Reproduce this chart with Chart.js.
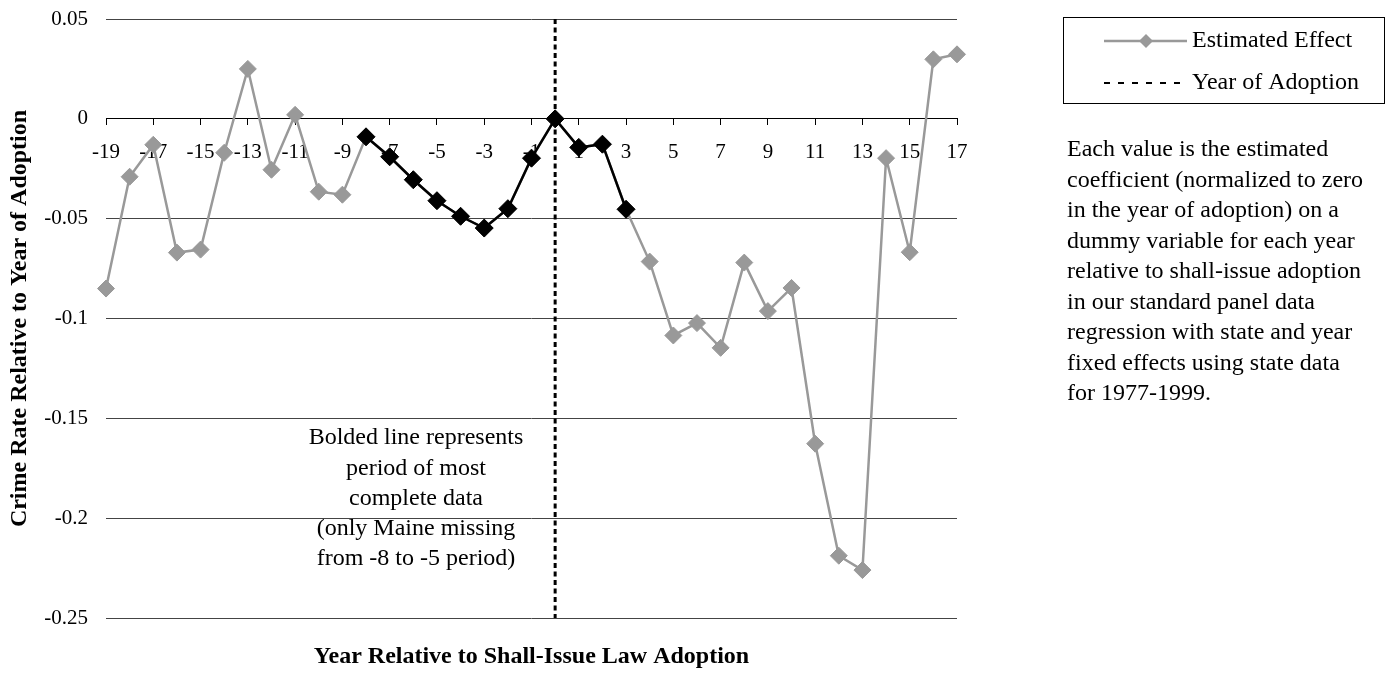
<!DOCTYPE html>
<html>
<head>
<meta charset="utf-8">
<script src="https://cdn.jsdelivr.net/npm/chart.js@4.4.1/dist/chart.umd.min.js"></script>
<style>
  html, body { margin: 0; padding: 0; background: #fff; }
  #wrap { width: 1386px; height: 673px; }
</style>
</head>
<body>
<div id="wrap"><canvas id="chart" width="1386" height="673"></canvas></div>
<script>
// years relative to adoption
const years = ["-19", "-18", "-17", "-16", "-15", "-14", "-13", "-12", "-11", "-10",
  "-9", "-8", "-7", "-6", "-5", "-4", "-3", "-2", "-1", "0",
  "1", "2", "3", "4", "5", "6", "7", "8", "9", "10",
  "11", "12", "13", "14", "15", "16", "17"];

// estimated coefficient for each year
const estimatedEffect = [-0.085, -0.029, -0.013, -0.067, -0.0655, -0.017, 0.025, -0.0255, 0.002, -0.0365,
  -0.038, -0.009, -0.019, -0.0305, -0.041, -0.0488, -0.0547, -0.045, -0.0197, 0,
  -0.0143, -0.0127, -0.0453, -0.0715, -0.1085, -0.1023, -0.1147, -0.072, -0.0963, -0.0847,
  -0.1627, -0.2188, -0.226, -0.0197, -0.0668, 0.0298, 0.0323];

// bolded period of most complete data
const boldFrom = "-8";
const boldTo = "3";
const adoptionYear = "0";

const xTickLabels = ["-19", "-17", "-15", "-13", "-11", "-9", "-7", "-5", "-3", "-1",
  "1", "3", "5", "7", "9", "11", "13", "15", "17"];
const yTicks = [0.05, 0, -0.05, -0.1, -0.15, -0.2, -0.25];

const xTitle = "Year Relative to Shall-Issue Law Adoption";
const yTitle = "Crime Rate Relative to Year of Adoption";
const annotationLines = ["Bolded line represents", "period of most", "complete data",
  "(only Maine missing", "from -8 to -5 period)"];
const noteLines = ["Each value is the estimated", "coefficient (normalized to zero",
  "in the year of adoption) on a", "dummy variable for each year",
  "relative to shall-issue adoption", "in our standard panel data",
  "regression with state and year", "fixed effects using state data", "for 1977-1999."];
const legendLabels = ["Estimated Effect", "Year of Adoption"];

const i0 = years.indexOf(boldFrom), i1 = years.indexOf(boldTo);
const boldEffect = estimatedEffect.map((v, i) => (i >= i0 && i <= i1 ? v : null));

const SERIF = '"Liberation Serif", "Times New Roman", serif';
const GRAY = "#999999";

function diamond(ctx, x, y, r) {
  ctx.beginPath();
  ctx.moveTo(x, y - r);
  ctx.lineTo(x + r, y);
  ctx.lineTo(x, y + r);
  ctx.lineTo(x - r, y);
  ctx.closePath();
  ctx.fill();
}

const overlay = {
  id: "overlay",
  afterDraw(chart) {
    const ctx = chart.ctx;
    const area = chart.chartArea;
    ctx.save();
    ctx.fillStyle = "#000";
    ctx.textBaseline = "middle";

    // note inside the plot
    ctx.font = "24px " + SERIF;
    ctx.textAlign = "center";
    annotationLines.forEach((t, i) => ctx.fillText(t, 416, 438 + i * 30.3));

    // x title
    ctx.font = "bold 24px " + SERIF;
    ctx.fillText(xTitle, (area.left + area.right) / 2, 657);

    // y title
    ctx.save();
    ctx.translate(20, (area.top + area.bottom) / 2);
    ctx.rotate(-Math.PI / 2);
    ctx.fillText(yTitle, 0, 0);
    ctx.restore();

    // side note
    ctx.font = "24px " + SERIF;
    ctx.textAlign = "left";
    noteLines.forEach((t, i) => ctx.fillText(t, 1067, 150 + i * 30.5));

    // legend
    ctx.strokeStyle = "#000";
    ctx.lineWidth = 1;
    ctx.strokeRect(1063.5, 17.5, 321, 86);

    ctx.strokeStyle = GRAY;
    ctx.lineWidth = 2.5;
    ctx.beginPath();
    ctx.moveTo(1104, 41);
    ctx.lineTo(1187, 41);
    ctx.stroke();
    ctx.fillStyle = GRAY;
    diamond(ctx, 1146, 41, 7);

    ctx.strokeStyle = "#000";
    ctx.lineWidth = 2;
    ctx.setLineDash([6, 8]);
    ctx.beginPath();
    ctx.moveTo(1104, 83);
    ctx.lineTo(1188, 83);
    ctx.stroke();
    ctx.setLineDash([]);

    ctx.fillStyle = "#000";
    ctx.fillText(legendLabels[0], 1192, 41);
    ctx.fillText(legendLabels[1], 1192, 83);
    ctx.restore();
  }
};

new Chart(document.getElementById("chart"), {
  type: "line",
  data: {
    labels: years,
    datasets: [
      {
        label: legendLabels[1],
        data: [{ x: adoptionYear, y: yTicks[0] }, { x: adoptionYear, y: yTicks[yTicks.length - 1] }],
        borderColor: "#000",
        borderWidth: 3,
        borderDash: [5, 3.5],
        pointRadius: 0,
        order: 0
      },
      {
        label: "Bolded period",
        data: boldEffect,
        borderColor: "#000",
        backgroundColor: "#000",
        borderWidth: 2.5,
        pointStyle: "rectRot",
        pointRadius: 9,
        pointBorderWidth: 1,
        spanGaps: false,
        order: 1
      },
      {
        label: legendLabels[0],
        data: estimatedEffect,
        borderColor: GRAY,
        backgroundColor: GRAY,
        borderWidth: 2.5,
        pointStyle: "rectRot",
        pointRadius: 8.5,
        pointBorderWidth: 1,
        order: 2
      }
    ]
  },
  options: {
    responsive: false,
    animation: false,
    devicePixelRatio: 1,
    layout: { padding: { left: 0, top: 19, right: 429, bottom: 55 } },
    plugins: {
      legend: { display: false },
      tooltip: { enabled: false }
    },
    scales: {
      x: {
        type: "category",
        position: { y: 0 },
        offset: false,
        border: { display: true, color: "#000", width: 1 },
        grid: {
          drawOnChartArea: false,
          drawTicks: true,
          tickLength: 6,
          color: "#000"
        },
        ticks: {
          autoSkip: false,
          maxRotation: 0,
          padding: 15,
          color: "#000",
          font: { family: SERIF, size: 21 },
          callback: (v, i) => (xTickLabels.includes(years[i]) ? years[i] : null)
        }
      },
      y: {
        min: yTicks[yTicks.length - 1],
        max: yTicks[0],
        border: { display: false },
        grid: { drawTicks: false, color: "#444", lineWidth: 1 },
        afterBuildTicks: (s) => { s.ticks = yTicks.map((v) => ({ value: v })); },
        afterFit: (s) => { s.width = 106; s.paddingTop = 0; s.paddingBottom = 0; },
        ticks: {
          padding: 18,
          color: "#000",
          font: { family: SERIF, size: 21 },
          callback: (v) => String(Math.round(v * 100) / 100)
        }
      }
    }
  },
  plugins: [overlay]
});
</script>
</body>
</html>
